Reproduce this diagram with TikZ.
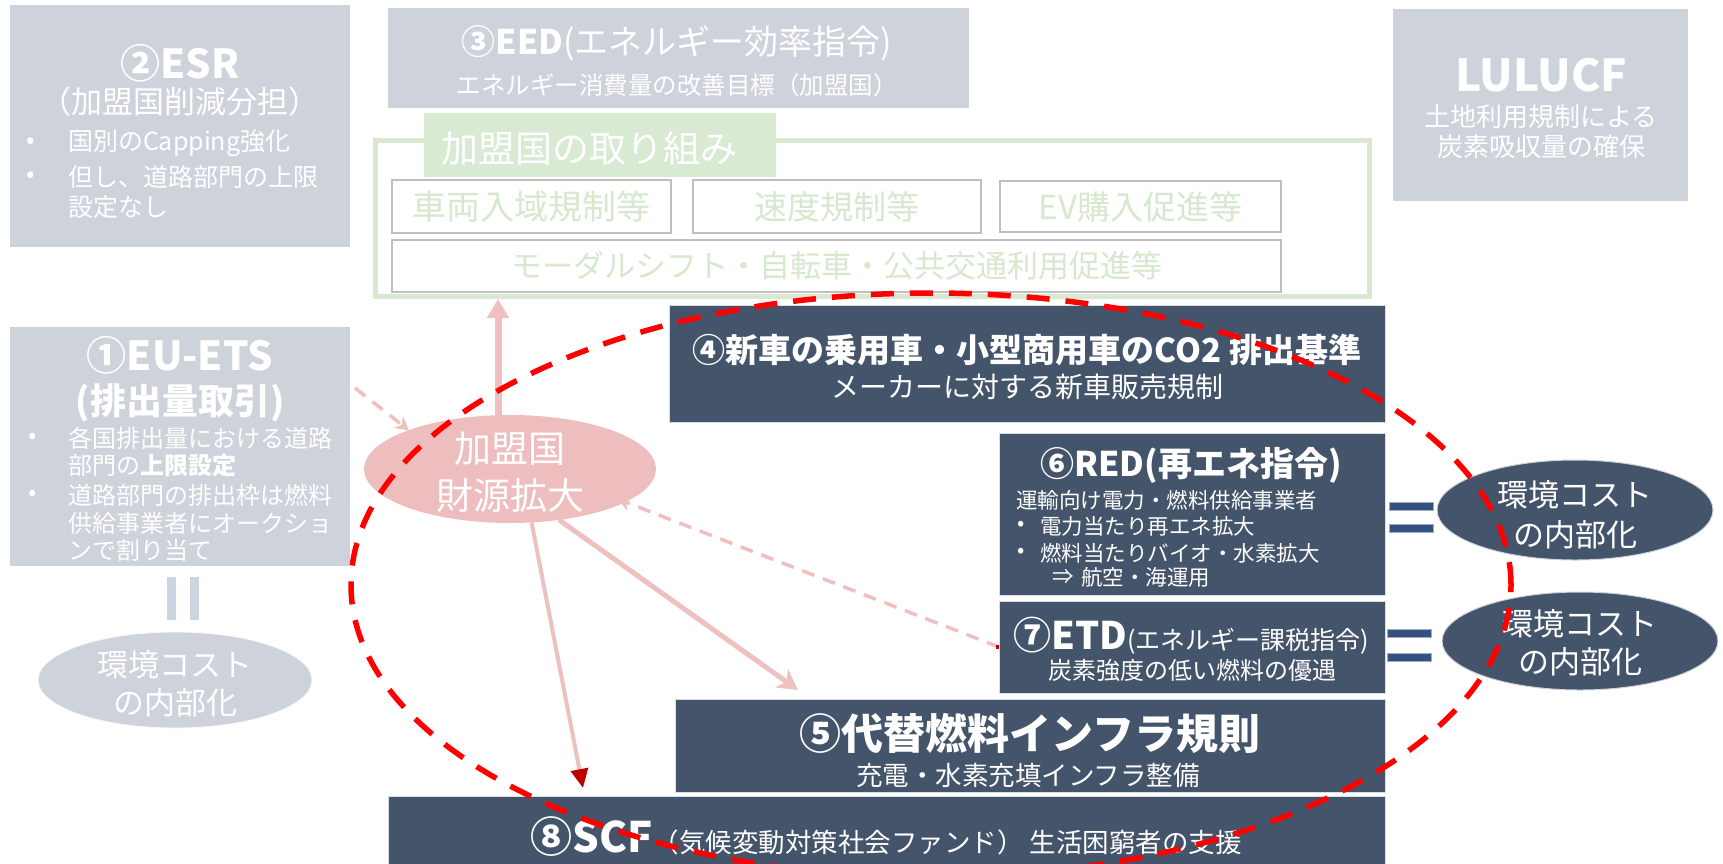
\documentclass[tikz,border=0pt]{standalone}
\usepackage{fontspec}
\setmainfont{Noto Sans CJK JP}
\usetikzlibrary{shapes.geometric,arrows.meta,calc}
\definecolor{grayfill}{RGB}{206,210,218}
\definecolor{darkbox}{RGB}{68,84,106}
\definecolor{pinkfill}{RGB}{238,190,190}
\definecolor{pinkline}{RGB}{239,192,192}
\definecolor{greenfill}{RGB}{217,234,211}
\definecolor{greenline}{RGB}{218,232,208}
\definecolor{greentext}{RGB}{214,232,205}
\definecolor{subborder}{RGB}{191,191,191}
\definecolor{eqblue}{RGB}{50,80,128}
\definecolor{eqedge}{RGB}{160,172,195}
\definecolor{eqgray}{RGB}{205,212,225}
\definecolor{darkred}{RGB}{192,0,0}
\newcommand\fsz[2]{\fontsize{#1}{#2}\selectfont}
\begin{document}
\begin{tikzpicture}[x=1pt,y=-1pt,
  every node/.style={inner sep=0pt, outer sep=0pt},
  rbox/.style={anchor=north west, rectangle},
  gbox/.style={rbox, fill=grayfill},
  dbox/.style={rbox, fill=darkbox, draw=white!80!darkbox, line width=0.8pt},
  sbox/.style={rbox, fill=white, draw=subborder, line width=2.5pt},
  wt/.style={text=white, align=center},
  wl/.style={text=white, anchor=west},
  gt/.style={text=greentext},
  pinkarrow/.style={draw=pinkline, line width=5pt},
  pinkdash/.style={draw=pinkline, line width=3.5pt, dash pattern=on 13pt off 9pt},
  eqbar/.style={fill=eqblue, draw=eqedge, line width=0.8pt},
  eqgbar/.style={fill=eqgray},
]
\useasboundingbox (0,0) rectangle (1723,863);

% ---------- top gray boxes ----------
\node[gbox, minimum width=340pt, minimum height=242pt] (esr) at (10,5) {};
\node[wt, font=\fsz{40}{48}\bfseries] (esrT1) at (180,63) {②ESR};
\node[wt, font=\fsz{31}{38}] (esrT2) at (180,102) {（加盟国削減分担）};
\node[wl, font=\fsz{25}{30}] (esrB1) at (26,143) {•};
\node[wl, font=\fsz{25}{30}] (esrL1) at (68,143) {国別のCapping強化};
\node[wl, font=\fsz{25}{30}] (esrB2) at (26,177) {•};
\node[wl, font=\fsz{25}{30}] (esrL2) at (68,177) {但し、道路部門の上限};
\node[wl, font=\fsz{25}{30}] (esrL3) at (68,207) {設定なし};

\node[gbox, minimum width=581pt, minimum height=100pt] (eed) at (388,8) {};
\node[wt, font=\fsz{34}{40}] (eedT1) at (677,43) {{\bfseries ③EED}(エネルギー効率指令)};
\node[wt, font=\fsz{24.5}{30}] (eedT2) at (677,85) {エネルギー消費量の改善目標（加盟国）};

\node[gbox, minimum width=295pt, minimum height=192pt] (lulucf) at (1393,9) {};
\node[wt, font=\fsz{44}{50}\bfseries] (luT1) at (1541,75) {LULUCF};
\node[wt, font=\fsz{26}{30}] (luT2) at (1541,117) {土地利用規制による};
\node[wt, font=\fsz{26}{30}] (luT3) at (1541,147) {炭素吸収量の確保};

% ---------- member state measures ----------
\node[rbox, draw=greenline, line width=5pt, minimum width=994pt, minimum height=156pt] (frame) at (375,140) {};
\node[rbox, fill=greenfill, minimum width=352pt, minimum height=64pt] (glabel) at (424,113) {};
\node[text=white, anchor=west, font=\fsz{37}{44}] (glabelT) at (441,148) {加盟国の取り組み};
\node[sbox, minimum width=279pt, minimum height=53pt] (s1) at (392,180) {};
\node[gt, font=\fsz{34}{40}] (s1T) at (s1.center) {車両入域規制等};
\node[sbox, minimum width=288pt, minimum height=53pt] (s2) at (693,180) {};
\node[gt, font=\fsz{33}{40}] (s2T) at (s2.center) {速度規制等};
\node[sbox, minimum width=281pt, minimum height=51pt] (s3) at (1000,181) {};
\node[gt, font=\fsz{33}{40}] (s3T) at (s3.center) {EV購入促進等};
\node[sbox, minimum width=889pt, minimum height=52pt] (s4) at (392,240) {};
\node[gt, font=\fsz{31}{38}] (s4T) at (s4.center) {モーダルシフト・自転車・公共交通利用促進等};

% ---------- EU-ETS ----------
\node[gbox, minimum width=340pt, minimum height=239pt] (euets) at (10,327) {};
\node[wt, font=\fsz{40}{48}\bfseries] (etsT1) at (180,355) {①EU-ETS};
\node[wt, font=\fsz{36}{42}\bfseries] (etsT2) at (180,403) {(排出量取引)};
\node[wl, font=\fsz{24}{28}] (etsB1) at (28,438) {•};
\node[wl, font=\fsz{24}{28}] (etsL1) at (68,438) {各国排出量における道路};
\node[wl, font=\fsz{24}{28}] (etsL2) at (68,465) {部門の{\bfseries 上限設定}};
\node[wl, font=\fsz{24}{28}] (etsB2) at (28,495) {•};
\node[wl, font=\fsz{24}{28}] (etsL3) at (68,495) {道路部門の排出枠は燃料};
\node[wl, font=\fsz{24}{28}] (etsL4) at (68,523) {供給事業者にオークショ};
\node[wl, font=\fsz{24}{28}] (etsL5) at (68,550) {ンで割り当て};
\fill[eqgray] (167,577) rectangle (176,620);
\fill[eqgray] (190,577) rectangle (199,620);
\node[ellipse, fill=grayfill, draw=white!85!grayfill, line width=0.8pt, minimum width=274pt, minimum height=96pt] (grayel) at (175,680) {};
\node[wt, font=\fsz{31}{38}] (grayelT) at (175,684) {環境コスト\\の内部化};

% ---------- pink ellipse ----------
\node[ellipse, fill=pinkfill, minimum width=292pt, minimum height=108pt] (pinkel) at (510,469) {};
\node[wt, font=\fsz{37}{47}] (pinkelT) at (510,472) {加盟国\\財源拡大};

% ---------- dark boxes ----------
\node[dbox, minimum width=716pt, minimum height=117pt] (b4) at (669,305) {};
\node[wt, font=\fsz{33}{40}\bfseries] (b4T1) at (1027,350) {④新車の乗用車・小型商用車のCO2 排出基準};
\node[wt, font=\fsz{28}{34}] (b4T2) at (1027,387) {メーカーに対する新車販売規制};

\node[dbox, minimum width=386pt, minimum height=162pt] (b6) at (999,433) {};
\node[wt, font=\fsz{34}{40}\bfseries] (b6T1) at (1191,465) {⑥RED(再エネ指令)};
\node[wl, font=\fsz{21.5}{26}] (b6L1) at (1016,500) {運輸向け電力・燃料供給事業者};
\node[wl, font=\fsz{21.5}{26}] (b6B1) at (1017,526) {•};
\node[wl, font=\fsz{21.5}{26}] (b6L2) at (1040,526) {電力当たり再エネ拡大};
\node[wl, font=\fsz{21.5}{26}] (b6B2) at (1017,553) {•};
\node[wl, font=\fsz{21.5}{26}] (b6L3) at (1040,553) {燃料当たりバイオ・水素拡大};
\node[wl, font=\fsz{21.5}{26}] (b6A) at (1052,577) {⇒};
\node[wl, font=\fsz{21.5}{26}] (b6L4) at (1081,577) {航空・海運用};

\node[dbox, minimum width=386pt, minimum height=92pt] (b7) at (999,601) {};
\node[wt, font=\fsz{25}{30}] (b7T1) at (1191,636) {{\fsz{38}{44}\bfseries ⑦ETD}(エネルギー課税指令)};
\node[wt, font=\fsz{24}{30}] (b7T2) at (1192,670) {炭素強度の低い燃料の優遇};

\node[dbox, minimum width=710pt, minimum height=93pt] (b5) at (675,699) {};
\node[wt, font=\fsz{42}{48}\bfseries] (b5T1) at (1030,733) {⑤代替燃料インフラ規則};
\node[wt, font=\fsz{26.5}{32}] (b5T2) at (1028,775) {充電・水素充填インフラ整備};

\node[dbox, minimum width=997pt, minimum height=70pt] (b8) at (388,796) {};
\node[wt, font=\fsz{26.5}{32}] (b8T) at (886,837) {{\fsz{42}{48}\bfseries ⑧SCF}（気候変動対策社会ファンド） 生活困窮者の支援};

% ---------- equal signs and right ellipses ----------
\path[eqbar] (1389,502) rectangle (1433,510);
\path[eqbar] (1389,524) rectangle (1433,532);
\path[eqbar] (1387,629) rectangle (1431,637);
\path[eqbar] (1387,653) rectangle (1431,661);
\node[ellipse, fill=darkbox, draw=white!75!darkbox, line width=1pt, minimum width=276pt, minimum height=100pt] (envA) at (1575,510) {};
\node[wt, font=\fsz{31}{40}] (envAT) at (1575,515) {環境コスト\\の内部化};
\node[ellipse, fill=darkbox, draw=white!75!darkbox, line width=1pt, minimum width=276pt, minimum height=98pt] (envB) at (1580,641) {};
\node[wt, font=\fsz{31}{38}] (envBT) at (1580,643) {環境コスト\\の内部化};

% ---------- connectors ----------
\coordinate (upTip) at ($(frame.south west)+(123,3)$);
\draw[pinkarrow, line width=7pt, -{Triangle[width=21pt,length=19pt]}] (pinkel.north -| upTip) -- (upTip);
\coordinate (d1s) at ($(euets.north east)+(5,61)$);
\draw[pinkdash, -{Stealth[width=15pt,length=13pt]}] (d1s) -- (pinkel.159);
\draw[pinkdash, shorten >=-8pt, -{Stealth[width=15pt,length=13pt]}] (b7.west) -- (pinkel.-16);
\fill[darkred] ($(b7.west)+(-3,-2)$) rectangle ($(b7.west)+(0,2)$);
\coordinate (t5) at ($(b5.north west)+(123,-9)$);
\draw[pinkarrow, -{Stealth[width=22pt,length=20pt,inset=6pt]}] (pinkel.-46) -- (t5);
\coordinate (t8) at ($(b8.north west)+(195,-8)$);
\draw[pinkarrow, line width=4pt, -{Triangle[width=17pt,length=19pt,color=darkred]}] (pinkel.-68) -- (t8);

% ---------- red dashed focus ellipse ----------
\node[ellipse, draw=red, line width=5.5pt, dash pattern=on 23pt off 16pt, minimum width=1160pt, minimum height=584pt] (focus) at (931,585) {};
\end{tikzpicture}
\end{document}
